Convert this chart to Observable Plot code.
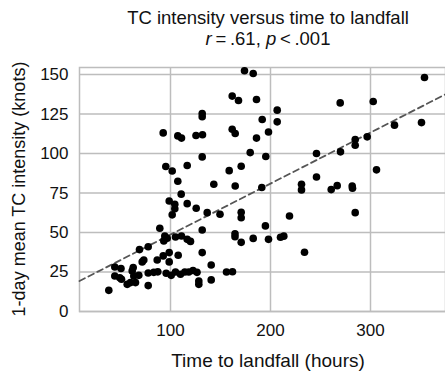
<!DOCTYPE html>
<html>
<head>
<meta charset="utf-8">
<script src="https://cdn.jsdelivr.net/npm/d3@7"></script>
<script src="https://cdn.jsdelivr.net/npm/@observablehq/plot@0.6"></script>
<style>
  html, body { margin: 0; padding: 0; background: #fff; }
  svg { display: block; }
</style>
</head>
<body>
<div id="chart"></div>
<script>
// Time to landfall (hours)
const hours = [
  92.7, 107.3, 111, 125.5, 132, 131.7, 131.7, 131.7, 95.3, 101.7, 116.7, 107.3,
  174, 182.7, 161.7, 168, 186, 206.7, 191.7, 206.7, 161.7, 164.7, 198, 186,
  179.7, 195.3, 246, 170.7, 158.7, 143.3, 164.7, 191.3, 231, 231, 246,
  354, 269.7, 302.7, 324, 351, 296.7, 284.7, 284.7, 270, 306, 266.7, 260.7, 281.7, 282, 284.7,
  110.7, 98.7, 104.3, 104.3, 116.7, 125.7, 101.7, 136.7, 149.5, 170.7, 170.7, 219,
  89.3, 131.7, 94.3, 96.7, 93.3, 105, 111, 116.7, 120, 164.5, 164.5, 170.7, 182.7,
  194.9, 198, 210, 213.3, 234, 131.7, 69, 77.7, 73.3, 71.7, 92.7, 86.7, 98.7, 98.7, 107.7, 140.7,
  44.3, 50.5, 62.7, 61.7, 44.3, 49.3, 51, 63.3, 68.3, 56.7, 60, 65,
  77.7, 83.3, 87.3, 95.7, 100.7, 105, 110, 114.3, 118.3, 122.5, 126.5,
  77.7, 38.3, 128.3, 128.3, 140.7, 156, 162
];
// 1-day mean TC intensity (knots)
const intensity = [
  113.1, 111.2, 109.8, 111.4, 111.9, 125.3, 123.3, 97.9, 91.8, 89, 92.4, 82.5,
  152.4, 150.7, 136.4, 133.6, 134.2, 127.5, 121.6, 120.1, 115.4, 112.7, 113.7, 109.8,
  100.6, 98.1, 100, 92, 89.2, 80.6, 79.5, 78.5, 80.5, 77, 85.2,
  148.2, 132.1, 133, 118, 119.6, 110.6, 108.9, 105.3, 101.1, 89.7, 79.7, 77.2, 79.5, 78, 62.6,
  74.3, 70, 67.9, 65.1, 68.3, 65.4, 61.2, 62.6, 61.6, 62.8, 59.4, 60.5,
  52.7, 51.6, 47.8, 46.4, 44.7, 47.2, 47.8, 45.7, 44.4, 49.2, 47.3, 43.8, 46.3,
  54.2, 45.7, 47, 47.7, 37.5, 37.3, 39.2, 41, 32.6, 31.4, 35.2, 32.6, 37.3, 31.4, 35.6, 29.4,
  28.2, 27.2, 27.8, 25.7, 22.5, 21.4, 20.4, 22.5, 22.9, 17.2, 18.3, 18.3,
  24.4, 24.8, 25.1, 24.2, 22.9, 25, 23.6, 25, 25, 26, 24.8,
  16.4, 13.4, 19.3, 17.2, 20, 25, 25.2
];
const xTicks = [100, 200, 300];
const yTicks = [0, 25, 50, 75, 100, 125, 150];
const xDomain = [9, 375];
const yDomain = [0, 154.5];
// least-squares trend
const trendIntercept = 16.4;
const trendSlope = 0.323;

const points = hours.map((h, i) => ({h, v: intensity[i]}));
const trend = xDomain.map(h => ({h, v: trendIntercept + trendSlope * h}));

const font = "'Liberation Sans', Arial, Helvetica, sans-serif";
const W = 445, H = 374;
const mL = 79, mR = 0, mT = 67, mB = 63;

const svg = Plot.plot({
  width: W,
  height: H,
  marginLeft: mL,
  marginRight: mR,
  marginTop: mT,
  marginBottom: mB,
  style: {fontFamily: font, fontSize: "17px", color: "#111", background: "#fff"},
  x: {domain: xDomain, ticks: xTicks},
  y: {domain: yDomain, ticks: yTicks},
  marks: [
    Plot.gridX(xTicks, {stroke: "#bdbdbd", strokeOpacity: 1, strokeWidth: 1.5}),
    Plot.gridY(yTicks, {stroke: "#bdbdbd", strokeOpacity: 1, strokeWidth: 1.5}),
    Plot.frame({stroke: "#bdbdbd", strokeWidth: 1.5}),
    Plot.axisX(xTicks, {tickSize: 0, tickPadding: 12, fontSize: 17, label: null}),
    Plot.axisY(yTicks, {tickSize: 0, tickPadding: 11, fontSize: 17, label: null}),
    Plot.line(trend, {x: "h", y: "v", stroke: "#555", strokeWidth: 1.8, strokeDasharray: "6,4"}),
    Plot.dot(points, {x: "h", y: "v", r: 3.8, fill: "#000", stroke: "none"})
  ]
});

const s = d3.select(svg);
const cx = 268;
s.append("text")
  .attr("x", cx).attr("y", 24)
  .attr("text-anchor", "middle")
  .style("font-family", font).style("font-size", "18.5px").attr("fill", "#111")
  .text("TC intensity versus time to landfall");
const t2 = s.append("text")
  .attr("x", cx).attr("y", 45)
  .attr("text-anchor", "middle")
  .style("font-family", font).style("font-size", "18.5px").attr("fill", "#111");
t2.append("tspan").attr("font-style", "italic").text("r");
t2.append("tspan").text("\u2009=\u2009.61, ");
t2.append("tspan").attr("font-style", "italic").text("p");
t2.append("tspan").text("\u2009<\u2009.001");

s.append("text")
  .attr("x", 268).attr("y", 366.5)
  .attr("text-anchor", "middle")
  .style("font-family", font).style("font-size", "19px").attr("fill", "#111")
  .text("Time to landfall (hours)");
s.append("text")
  .attr("transform", "translate(25,189) rotate(-90)")
  .attr("text-anchor", "middle")
  .style("font-family", font).style("font-size", "18px").attr("fill", "#111")
  .text("1-day mean TC intensity (knots)");

document.getElementById("chart").appendChild(svg);
</script>
</body>
</html>
